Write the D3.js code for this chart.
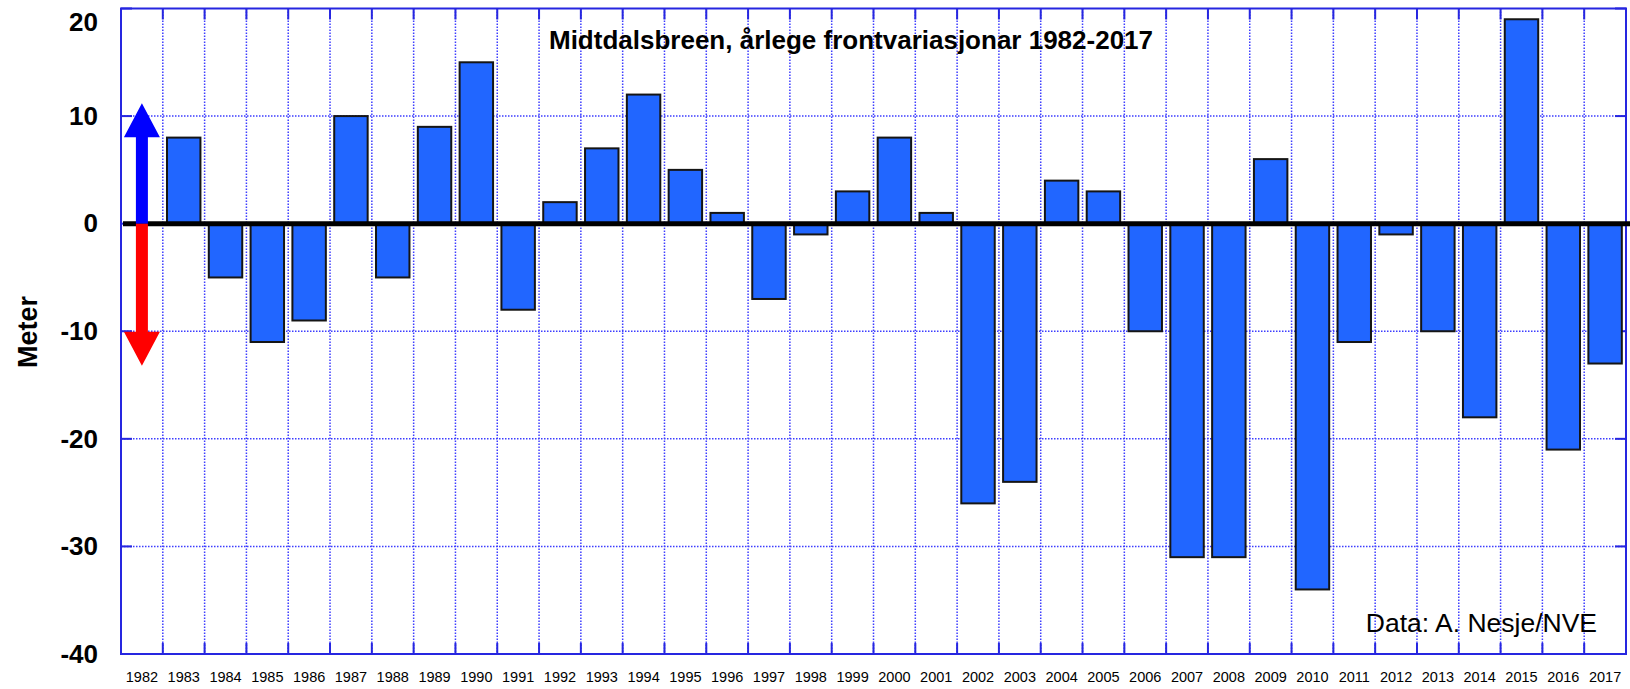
<!DOCTYPE html>
<html>
<head>
<meta charset="utf-8">
<script src="https://cdn.jsdelivr.net/npm/d3@7"></script>
<style>
  body { margin: 0; background: #fff; }
  svg text { font-family: "Liberation Sans", Arial, sans-serif; }
</style>
</head>
<body>
<div id="chart"></div>
<script>
// years on the x axis, 1982 has no bar (arrows sit there)
var years = d3.range(1982, 2018).map(String);
var barYears = ["1983","1984","1985","1986","1987","1988","1989","1990","1991","1992",
  "1993","1994","1995","1996","1997","1998","1999","2000","2001","2002","2003","2004",
  "2005","2006","2007","2008","2009","2010","2011","2012","2013","2014","2015","2016","2017"];
var frontChange = [8, -5, -11, -9, 10, -5, 9, 15, -8, 2,
  7, 12, 5, 1, -7, -1, 3, 8, 1, -26, -24, 4,
  3, -10, -31, -31, 6, -34, -11, -1, -10, -18, 19, -21, -13];
var yTicks = [-40, -30, -20, -10, 0, 10, 20];
// arrow extents in metres (advance up, retreat down)
var arrowUp = [0, 11.2];
var arrowDown = [0, -13.2];

var W = 1630, H = 689;
var plot = { left: 121, right: 1626, top: 8.5, bottom: 654 };

var svg = d3.select("#chart").append("svg")
    .attr("width", W)
    .attr("height", H);

var x = d3.scaleBand()
    .domain(years)
    .range([plot.left, plot.right])
    .paddingInner(0.2)
    .paddingOuter(0.1);

var y = d3.scaleLinear()
    .domain([-40, 20])
    .range([plot.bottom, plot.top]);

var gridColor = "#3d3dff";
var frameColor = "#2626e0";

// band boundaries
var gap = (x.step() - x.bandwidth()) / 2;
var bounds = years.slice(1).map(function(d) { return x(d) - gap; });

// vertical dotted grid
svg.append("g").selectAll("line")
    .data(bounds)
    .enter().append("line")
    .attr("x1", function(d) { return d; })
    .attr("x2", function(d) { return d; })
    .attr("y1", plot.top)
    .attr("y2", plot.bottom)
    .attr("stroke", gridColor)
    .attr("stroke-width", 1.5)
    .attr("stroke-dasharray", "1.5,1.5");

// horizontal dotted grid
svg.append("g").selectAll("line")
    .data(yTicks.filter(function(d) { return d !== -40 && d !== 20 && d !== 0; }))
    .enter().append("line")
    .attr("x1", plot.left)
    .attr("x2", plot.right)
    .attr("y1", function(d) { return y(d); })
    .attr("y2", function(d) { return y(d); })
    .attr("stroke", gridColor)
    .attr("stroke-width", 1.5)
    .attr("stroke-dasharray", "1.5,1.5");

// frame
svg.append("rect")
    .attr("x", plot.left)
    .attr("y", plot.top)
    .attr("width", plot.right - plot.left)
    .attr("height", plot.bottom - plot.top)
    .attr("fill", "none")
    .attr("stroke", frameColor)
    .attr("stroke-width", 2);

// tick marks on frame
var tk = svg.append("g").attr("stroke", frameColor).attr("stroke-width", 2);
bounds.forEach(function(b) {
    tk.append("line").attr("x1", b).attr("x2", b).attr("y1", plot.top).attr("y2", plot.top + 11);
    tk.append("line").attr("x1", b).attr("x2", b).attr("y1", plot.bottom).attr("y2", plot.bottom - 11);
});
yTicks.forEach(function(t) {
    tk.append("line").attr("x1", plot.left).attr("x2", plot.left + 11).attr("y1", y(t)).attr("y2", y(t));
    tk.append("line").attr("x1", plot.right).attr("x2", plot.right - 11).attr("y1", y(t)).attr("y2", y(t));
});

// bars
svg.append("g").selectAll("rect")
    .data(barYears)
    .enter().append("rect")
    .attr("x", function(d) { return x(d); })
    .attr("width", x.bandwidth())
    .attr("y", function(d, i) { return y(Math.max(0, frontChange[i])); })
    .attr("height", function(d, i) { return Math.abs(y(frontChange[i]) - y(0)); })
    .attr("fill", "#2166ff")
    .attr("stroke", "#151515")
    .attr("stroke-width", 2);

// zero line
svg.append("line")
    .attr("x1", plot.left + 2)
    .attr("x2", W)
    .attr("y1", y(0))
    .attr("y2", y(0))
    .attr("stroke", "#000")
    .attr("stroke-width", 5);

// arrows in the 1982 column
var ax = x("1982") + x.bandwidth() / 2;
function arrowPath(ext) {
    var y0 = y(ext[0]), y1 = y(ext[1]);
    var dir = y1 < y0 ? 1 : -1;
    var head = 34, hw = 18, sw = 6;
    var yb = y1 + dir * head;
    return "M" + (ax - sw) + "," + y0 +
        "L" + (ax - sw) + "," + yb +
        "L" + (ax - hw) + "," + yb +
        "L" + ax + "," + y1 +
        "L" + (ax + hw) + "," + yb +
        "L" + (ax + sw) + "," + yb +
        "L" + (ax + sw) + "," + y0 + "Z";
}
svg.append("path").attr("d", arrowPath(arrowUp)).attr("fill", "#0000ff");
svg.append("path").attr("d", arrowPath(arrowDown)).attr("fill", "#ff0000");

// y axis labels (plain hyphen for minus, as in the original)
svg.append("g")
    .attr("transform", "translate(" + plot.left + ",0)")
    .call(d3.axisLeft(y).tickValues(yTicks).tickSize(0).tickPadding(23)
        .tickFormat(function(d) { return String(d); }))
    .call(function(g) { g.select(".domain").remove(); })
    .selectAll("text")
    .style("font-family", "'Liberation Sans', Arial, sans-serif")
    .style("font-size", "26px")
    .style("font-weight", "bold")
    .attr("fill", "#000")
    // top label sits a bit lower so it is not clipped
    .attr("y", function(d) { return d === 20 ? 14 : null; });

// x axis labels
svg.append("g")
    .attr("transform", "translate(0," + plot.bottom + ")")
    .call(d3.axisBottom(x).tickSize(0).tickPadding(18))
    .call(function(g) { g.select(".domain").remove(); })
    .selectAll("text")
    .style("font-family", "'Liberation Sans', Arial, sans-serif")
    .style("font-size", "14.5px")
    .attr("fill", "#000");

svg.append("text")
    .attr("transform", "translate(37,332) rotate(-90)")
    .attr("text-anchor", "middle")
    .style("font-size", "27px")
    .style("font-weight", "bold")
    .text("Meter");

svg.append("text")
    .attr("x", 851)
    .attr("y", 49)
    .attr("text-anchor", "middle")
    .style("font-size", "26px")
    .style("font-weight", "bold")
    .text("Midtdalsbreen, årlege frontvariasjonar 1982-2017");

svg.append("text")
    .attr("x", 1597)
    .attr("y", 632)
    .attr("text-anchor", "end")
    .style("font-size", "26.5px")
    .text("Data: A. Nesje/NVE");
</script>
</body>
</html>
